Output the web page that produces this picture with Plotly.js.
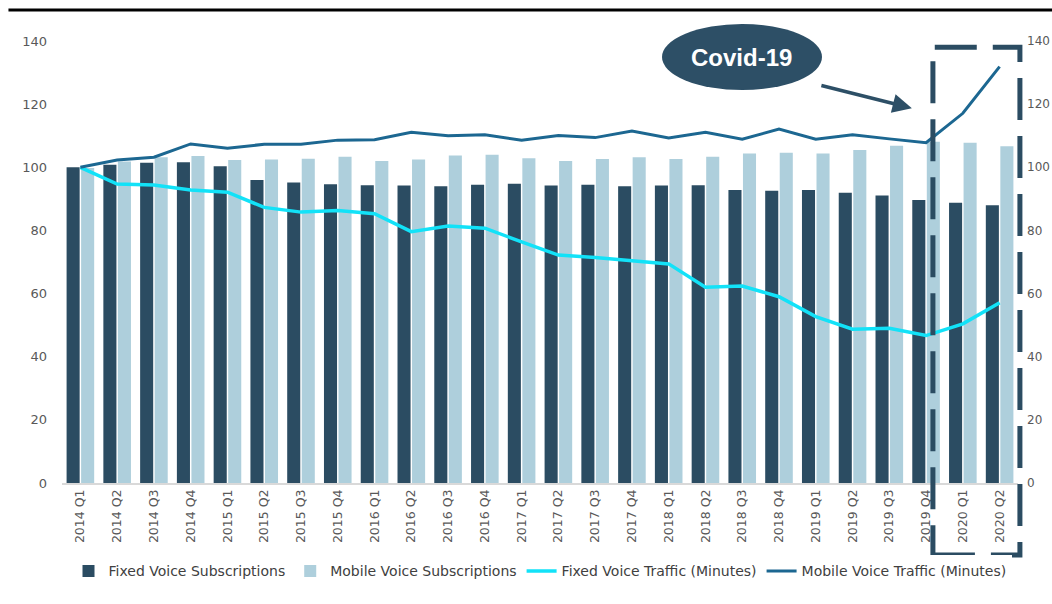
<!DOCTYPE html>
<html>
<head>
<meta charset="utf-8">
<script src="https://cdn.plot.ly/plotly-3.0.1.min.js"></script>
<style>html,body{margin:0;padding:0;background:#fff;}#chart{width:1052px;height:604px;}</style>
</head>
<body>
<div id="chart"></div>
<script>
const quarters = ["2014 Q1","2014 Q2","2014 Q3","2014 Q4","2015 Q1","2015 Q2","2015 Q3","2015 Q4","2016 Q1","2016 Q2","2016 Q3","2016 Q4","2017 Q1","2017 Q2","2017 Q3","2017 Q4","2018 Q1","2018 Q2","2018 Q3","2018 Q4","2019 Q1","2019 Q2","2019 Q3","2019 Q4","2020 Q1","2020 Q2"];
const fixedSubs = [100, 100.8, 101.4, 101.6, 100.3, 96.0, 95.2, 94.6, 94.3, 94.2, 94.0, 94.5, 94.8, 94.2, 94.5, 94.0, 94.2, 94.3, 92.8, 92.6, 92.8, 91.9, 91.1, 89.6, 88.8, 88.0];
const mobileSubs = [99.8, 101.8, 103.2, 103.6, 102.3, 102.5, 102.7, 103.3, 102.0, 102.5, 103.7, 104.0, 102.9, 102.0, 102.6, 103.2, 102.6, 103.3, 104.4, 104.6, 104.4, 105.5, 106.8, 108.1, 107.8, 106.7];
const fixedTraffic = [100, 94.7, 94.4, 92.8, 92.1, 87.3, 85.8, 86.3, 85.3, 79.6, 81.4, 80.7, 76.4, 72.2, 71.4, 70.4, 69.4, 62.0, 62.4, 59.0, 52.7, 48.7, 49.0, 46.7, 50.4, 57.1];
const mobileTraffic = [100, 102.3, 103.2, 107.4, 106.0, 107.3, 107.3, 108.6, 108.7, 111.1, 110.0, 110.3, 108.6, 110.1, 109.4, 111.5, 109.3, 111.1, 108.9, 112.1, 108.9, 110.3, 109.0, 107.8, 117.1, 131.9];
const seriesNames = ["Fixed Voice Subscriptions","Mobile Voice Subscriptions","Fixed Voice Traffic (Minutes)","Mobile Voice Traffic (Minutes)"];
const yTicks = [0,20,40,60,80,100,120,140];

const DARK = "#2b4c62", LIGHT = "#aecfdc", CYAN = "#12e2f8", BLUE = "#1c6791";
const font = "DejaVu Sans, sans-serif";

const traces = [
  {type:"bar", name:seriesNames[0], x:quarters, y:fixedSubs, marker:{color:DARK}, hoverinfo:"skip"},
  {type:"bar", name:seriesNames[1], x:quarters, y:mobileSubs, marker:{color:LIGHT}, hoverinfo:"skip"},
  {type:"scatter", mode:"lines", name:seriesNames[2], x:quarters, y:fixedTraffic, line:{color:CYAN, width:3.5}, hoverinfo:"skip"},
  {type:"scatter", mode:"lines", name:seriesNames[3], x:quarters, y:mobileTraffic, line:{color:BLUE, width:3}, yaxis:"y2", hoverinfo:"skip"}
];

const layout = {
  width:1052, height:604,
  margin:{l:62, r:34, t:41, b:121},
  paper_bgcolor:"#fff", plot_bgcolor:"rgba(0,0,0,0)",
  barmode:"group", bargap:0.21, bargroupgap:0.1,
  font:{family:font, size:13, color:"#595959"},
  showlegend:true,
  legend:{orientation:"h", x:0.5, xanchor:"center", y:-0.2, yanchor:"middle",
          font:{family:font, size:14, color:"#404040"}, itemwidth:30, traceorder:"normal", tracegroupgap:0},
  xaxis:{type:"category", tickangle:-90, tickfont:{family:font, size:12.5, color:"#595959"},
         showgrid:false, showline:true, linecolor:"#d9d9d9", linewidth:1.5, ticks:"", zeroline:false, fixedrange:true},
  yaxis:{range:[0,140], tickvals:yTicks, ticktext:yTicks.map(String), showgrid:false, zeroline:false, showline:false,
         ticks:"", tickfont:{family:font, size:13, color:"#595959"}, ticklabelstandoff:14, fixedrange:true},
  yaxis2:{range:[0,140], tickvals:yTicks, ticktext:yTicks.map(String), overlaying:"y", side:"right", showgrid:false,
          zeroline:false, showline:false, ticks:"", tickfont:{family:font, size:12, color:"#595959"}, ticklabelstandoff:8, fixedrange:true},
  shapes:[
    {type:"line", xref:"paper", yref:"paper", x0:-0.056, x1:1.04, y0:1.07, y1:1.07, line:{color:"#000", width:3}},
    {type:"circle", xref:"paper", yref:"paper", x0:0.6276, x1:0.795, y0:0.889, y1:1.0385, fillcolor:"#2d4f66", line:{width:0}, layer:"below"},
    {type:"rect", xref:"paper", yref:"paper", x0:0.911, x1:1.002, y0:-0.163, y1:0.986,
     line:{color:"#2b4c62", width:5, dash:"42px,16px"}, fillcolor:"rgba(0,0,0,0)"}
  ],
  annotations:[
    {xref:"paper", yref:"paper", x:0.711, y:0.9638, xanchor:"center", yanchor:"middle", text:"Covid-19", showarrow:false,
     font:{family:"Liberation Sans", size:24, color:"#ffffff", weight:"bold"}},
    {xref:"paper", yref:"paper", x:0.889, y:0.848, ax:-92, ay:-23, text:"", showarrow:true,
     arrowhead:2, arrowsize:1.1, arrowwidth:3.5, arrowcolor:"#2d4f66"}
  ]
};

Plotly.newPlot("chart", traces, layout, {displayModeBar:false, staticPlot:true});
</script>
</body>
</html>
